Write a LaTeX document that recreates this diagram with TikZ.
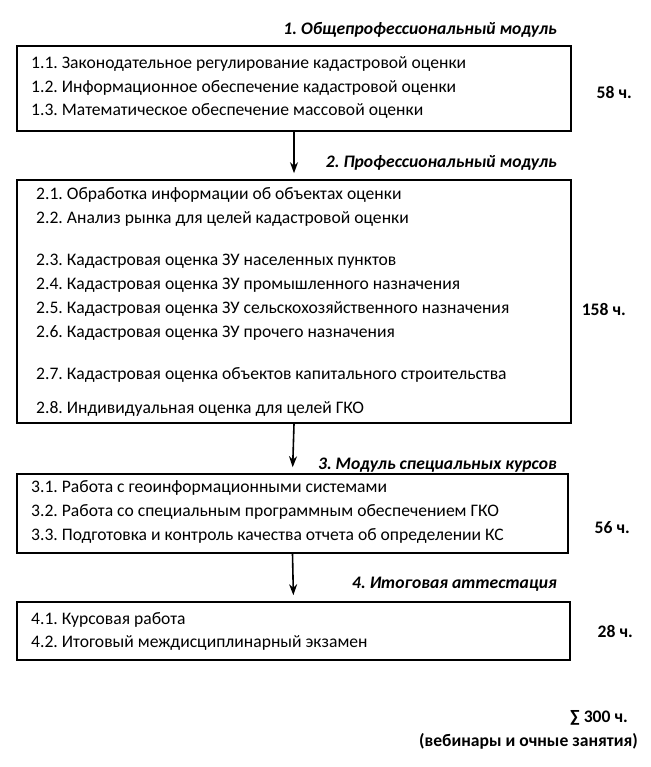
\documentclass[tikz,border=0pt]{standalone}
\usepackage{fontspec}
\setmainfont{Carlito}
\usetikzlibrary{arrows.meta}
\frenchspacing
\tikzset{
  box/.style={draw, line width=1.6pt, inner sep=0pt},
  item/.style={anchor=west, inner sep=0pt, font=\fontsize{17.6}{20}\selectfont},
  head/.style={anchor=east, inner sep=0pt, font=\fontsize{17.6}{20}\selectfont\bfseries\itshape},
  hours/.style={anchor=east, inner sep=0pt, font=\fontsize{17.6}{20}\selectfont\bfseries},
  flow/.style={line width=1.6pt, -{Stealth[length=11pt,width=8pt]}, shorten >=6pt}
}
\begin{document}
\begin{tikzpicture}[x=1pt,y=-1pt]
\useasboundingbox (0,0) rectangle (650,767);
% boxes
\node[box, minimum width=554pt, minimum height=85pt] (b1) at (294,88.5) {};
\node[box, minimum width=554pt, minimum height=243pt] (b2) at (294,301.5) {};
\node[box, minimum width=551pt, minimum height=79pt] (b3) at (292.5,513.5) {};
\node[box, minimum width=553pt, minimum height=58pt] (b4) at (293.5,631) {};
% headers
\node[head] (h1) at (557,30) {1. Общепрофессиональный модуль};
\node[head] (h2) at (557,163) {2. Профессиональный модуль};
\node[head] (h3) at (557,465) {3. Модуль специальных курсов};
\node[head] (h4) at (557,584) {4. Итоговая аттестация};
% box 1
\node[item] (i11) at (31,64) {1.1. Законодательное регулирование кадастровой оценки};
\node[item] (i12) at (31,88) {1.2. Информационное обеспечение кадастровой оценки};
\node[item] (i13) at (31,111) {1.3. Математическое обеспечение массовой оценки};
% box 2
\node[item] (i21) at (36,195) {2.1. Обработка информации об объектах оценки};
\node[item] (i22) at (36,219) {2.2. Анализ рынка для целей кадастровой оценки};
\node[item] (i23) at (36,261) {2.3. Кадастровая оценка ЗУ населенных пунктов};
\node[item] (i24) at (36,285) {2.4. Кадастровая оценка ЗУ промышленного назначения};
\node[item] (i25) at (36,309) {2.5. Кадастровая оценка ЗУ сельскохозяйственного назначения};
\node[item] (i26) at (36,333) {2.6. Кадастровая оценка ЗУ прочего назначения};
\node[item] (i27) at (36,375) {2.7. Кадастровая оценка объектов капитального строительства};
\node[item] (i28) at (36,409) {2.8. Индивидуальная оценка для целей ГКО};
% box 3
\node[item] (i31) at (31,488) {3.1. Работа с геоинформационными системами};
\node[item] (i32) at (31,512) {3.2. Работа со специальным программным обеспечением ГКО};
\node[item] (i33) at (31,536) {3.3. Подготовка и контроль качества отчета об определении КС};
% box 4
\node[item] (i41) at (31,620) {4.1. Курсовая работа};
\node[item] (i42) at (31,643) {4.2. Итоговый междисциплинарный экзамен};
% hours
\node[hours] (t1) at (632,92) {58 ч.};
\node[hours] (t2) at (626,309) {158 ч.};
\node[hours] (t3) at (630,528) {56 ч.};
\node[hours] (t4) at (633,631) {28 ч.};
\node[hours] (sum) at (628,718) {∑ 300 ч.};
\node[hours] (note) at (638,741) {(вебинары и очные занятия)};
% arrows
\draw[flow] (b1.south) -- (b2.north);
\draw[flow] (b2.south) -- (b3.north);
\draw[flow] (b3.south) -- (b4.north);
\end{tikzpicture}
\end{document}
